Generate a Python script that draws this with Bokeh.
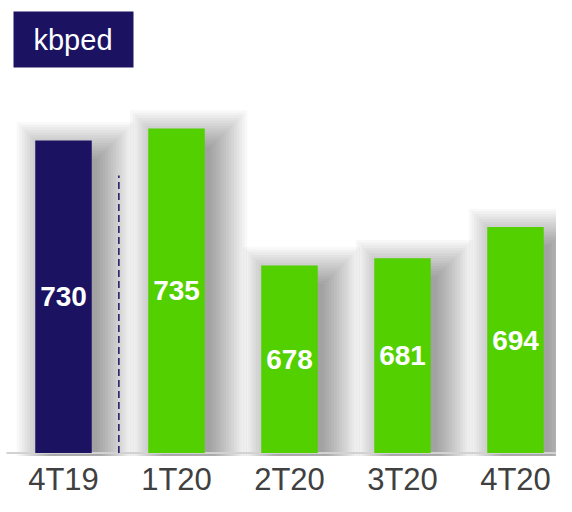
from bokeh.plotting import figure
from bokeh.models import Range1d, ColumnDataSource
from bokeh.core.properties import value
from bokeh.embed import file_html
from bokeh.resources import INLINE

# ---- data ----
categories = ["4T19", "1T20", "2T20", "3T20", "4T20"]
values = [730, 735, 678, 681, 694]
bar_colors = ["#1B1262", "#52D000", "#52D000", "#52D000", "#52D000"]
title_text = "kbped"
base_value = 600

# ---- layout / scale constants ----
W, H = 556, 496
XS = 113.0       # px per category unit
YS = 2.4035      # px per value unit
x0 = -63.0 / XS
y1 = 1894.6 / YS
x_range = Range1d(x0, x0 + W / XS)
y_range = Range1d(y1 - H / YS, y1)

def fx(px):
    return x0 + px / XS

def fy(py):
    return y1 - py / YS

p = figure(width=W, height=H, x_range=x_range, y_range=y_range,
           x_axis_type=None, y_axis_type=None, toolbar_location=None,
           output_backend="svg", min_border=0, outline_line_color=None,
           background_fill_color="white", border_fill_color="white")
p.xgrid.visible = False
p.ygrid.visible = False

xs = list(range(len(categories)))
bw = 0.5

# ---- soft shadows (layered translucent quads) ----
sl, sr, st, sb = [], [], [], []
n_layers = 15
step = 2.6
for i, v in zip(xs, values):
    for k in range(n_layers):
        e = k * step
        sl.append(i - bw / 2 + (18 - e) / XS)
        sr.append(i + bw / 2 + (6 + e) / XS)
        st.append(v - (18 - e) / YS)
        sb.append(base_value - min(e, 3) / YS)
p.quad(left=sl, right=sr, top=st, bottom=sb, fill_color="#000000",
       fill_alpha=0.026, line_color=None)

# baseline
p.segment(x0=[fx(6)], y0=[base_value], x1=[fx(560)], y1=[base_value],
          line_color="#d2d2d2", line_width=2)

# dashed separator between 4T19 and 1T20
p.segment(x0=[0.49], y0=[base_value], x1=[0.49], y1=[715.5],
          line_color="#1B1262", line_width=1.5, line_dash="7 4")

# bars
src = ColumnDataSource(dict(x=xs, top=values, color=bar_colors,
                            mid=[(base_value + v) / 2 for v in values],
                            lab=[str(v) for v in values], cat=categories))
p.vbar(x="x", top="top", bottom=base_value, width=bw, fill_color="color",
       line_color=None, source=src)

# value labels
p.text(x="x", y="mid", text="lab", source=src, text_color="white",
       text_font=value("Liberation Sans"), text_font_style="bold",
       text_font_size="28px", text_align="center", text_baseline="middle")

# category labels
p.text(x="x", y=fy(479), text="cat", source=src, text_color="#404040",
       text_font=value("Liberation Sans"), text_font_size="31px",
       text_align="center", text_baseline="middle")

# title box
p.quad(left=[fx(13)], right=[fx(133)], top=[fy(11)], bottom=[fy(67)],
       fill_color="#1B1262", line_color=None)
p.text(x=[fx(72.5)], y=[fy(39)], text=[title_text], text_color="white",
       text_font=value("Liberation Sans"), text_font_size="29px",
       text_align="center", text_baseline="middle")

open("out.html", "w").write(file_html(p, INLINE))
